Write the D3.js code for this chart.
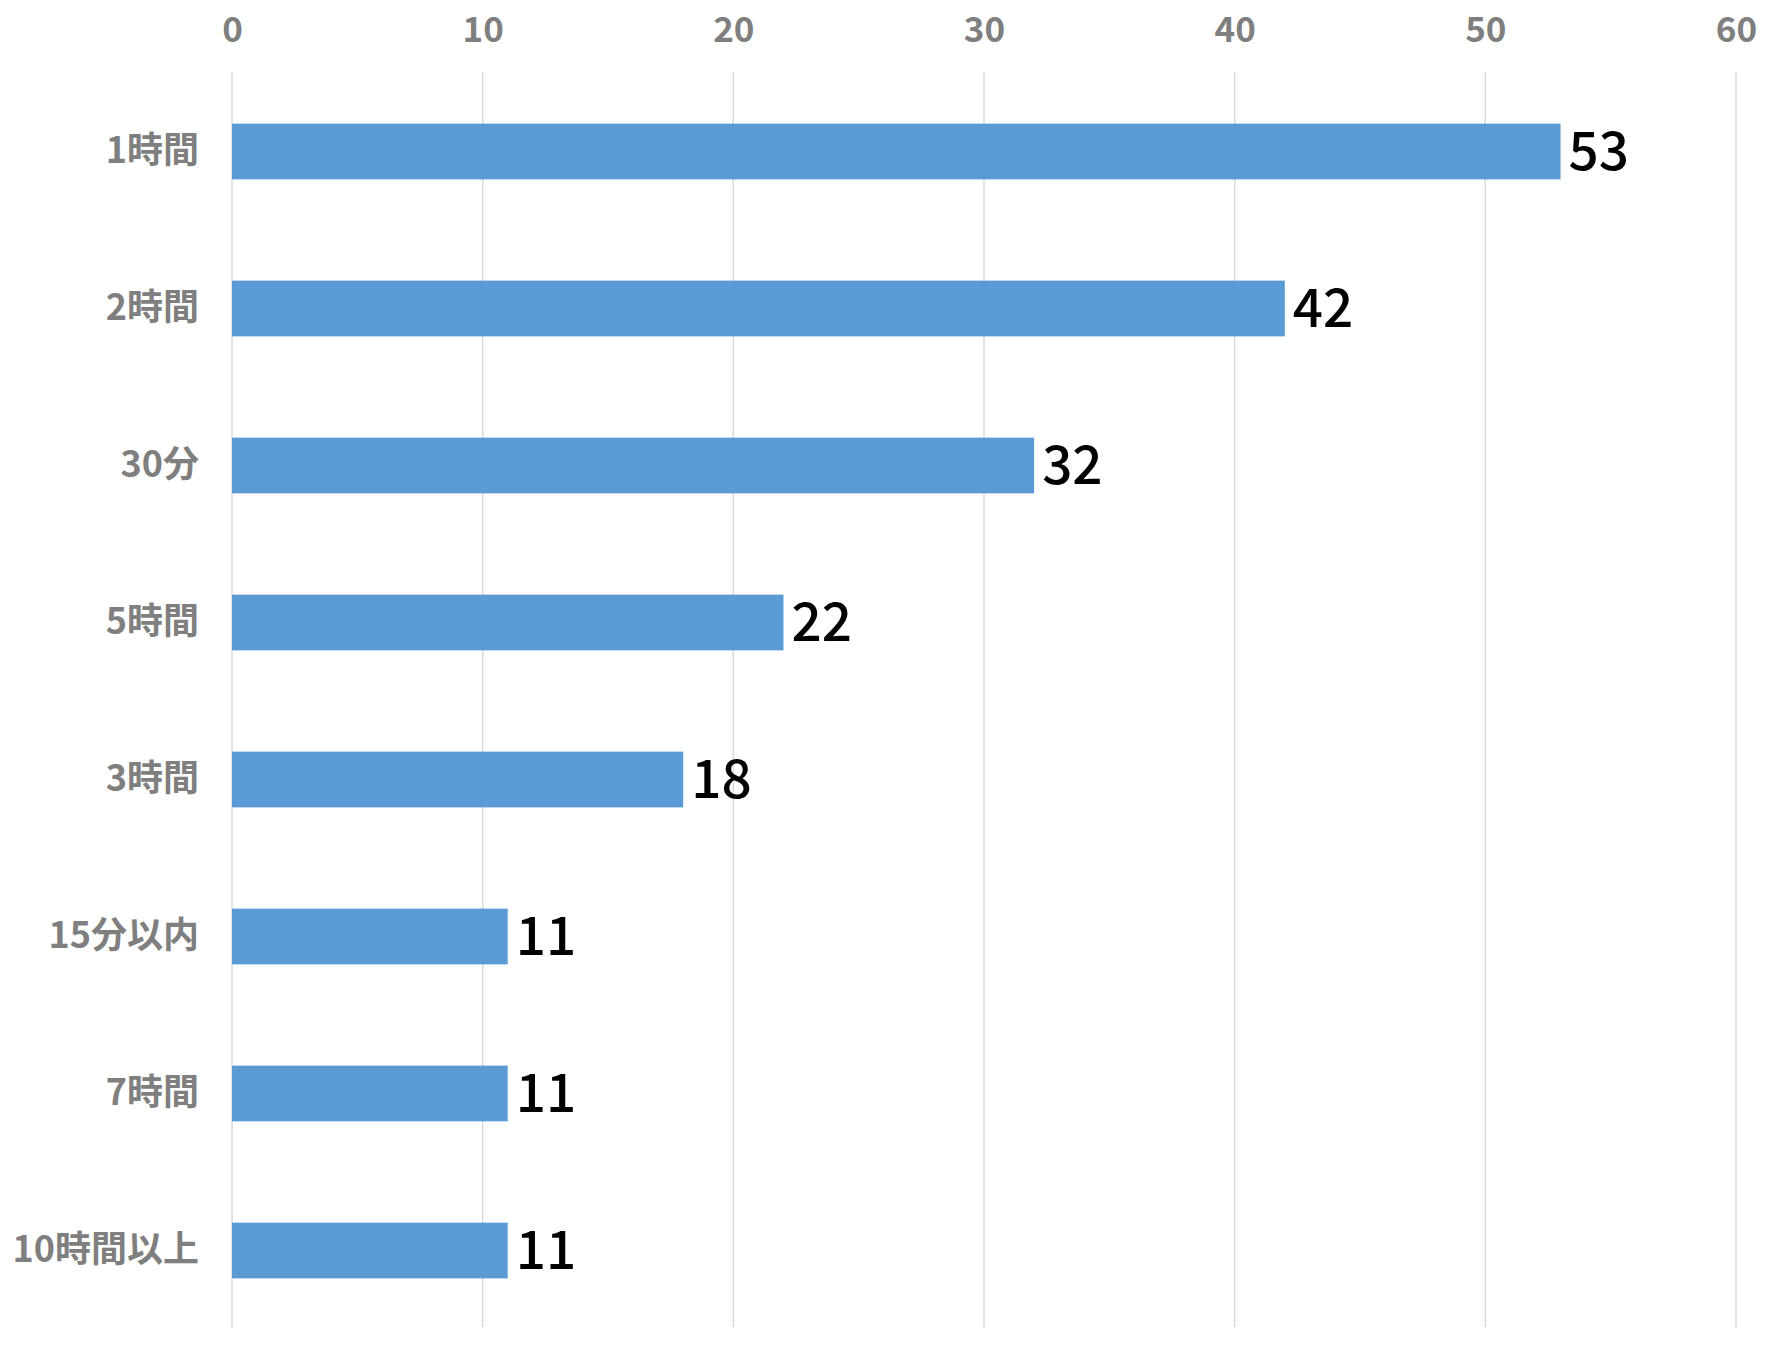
<!DOCTYPE html>
<html><head><meta charset="utf-8">
<script src="https://cdn.jsdelivr.net/npm/d3@7"></script>
<style>body{margin:0;background:#fff;} svg{display:block;}</style>
</head><body>
<script>
const categories = ["1時間","2時間","30分","5時間","3時間","15分以内","7時間","10時間以上"];
const values = [53,42,32,22,18,11,11,11];
const tickValues = [0,10,20,30,40,50,60];

const W = 1779, H = 1350;
const margin = {left: 232, right: 43, top: 73, bottom: 21};
const svg = d3.select("body").append("svg").attr("width", W).attr("height", H);

const x = d3.scaleLinear().domain([0,60]).range([margin.left, W - margin.right]);
const y = d3.scaleBand().domain(categories).range([margin.top, H - margin.bottom])
  .paddingInner(0.645).paddingOuter(0.3225);

// gridlines
svg.append("g").selectAll("line").data(tickValues).join("line")
  .attr("x1", d => x(d)).attr("x2", d => x(d))
  .attr("y1", margin.top - 1).attr("y2", H - margin.bottom - 2)
  .attr("stroke", "#d9d9d9").attr("stroke-width", 1.5);

// top axis labels
const ax = svg.append("g").attr("transform", `translate(0,${margin.top})`)
  .call(d3.axisTop(x).tickValues(tickValues).tickSize(0).tickPadding(31));
ax.select(".domain").remove();
ax.selectAll("text").attr("fill", "#7f7f7f")
  .style("font-family", "'Noto Sans CJK JP', 'Noto Sans', sans-serif")
  .style("font-weight", "bold").style("font-size", "35px");

// category labels
const ay = svg.append("g").attr("transform", `translate(${margin.left},0)`)
  .call(d3.axisLeft(y).tickSize(0).tickPadding(33));
ay.select(".domain").remove();
ay.selectAll("text").attr("fill", "#7f7f7f")
  .style("font-family", "'Noto Sans CJK JP', 'Noto Sans', sans-serif")
  .style("font-weight", "bold").style("font-size", "36px");

// bars
svg.append("g").selectAll("rect").data(values).join("rect")
  .attr("x", x(0)).attr("y", (d,i) => y(categories[i]))
  .attr("width", d => x(d) - x(0)).attr("height", y.bandwidth())
  .attr("fill", "#5b9bd5");

// value labels
svg.append("g").selectAll("text").data(values).join("text")
  .attr("x", d => x(d) + 8).attr("y", (d,i) => y(categories[i]) + y.bandwidth()/2)
  .attr("dy", "0.35em")
  .attr("fill", "#000")
  .style("font-family", "'Noto Sans CJK JP', 'Noto Sans', sans-serif")
  .style("font-weight", "500")
  .style("font-size", "53px")
  .text(d => d);
</script>
</body></html>
